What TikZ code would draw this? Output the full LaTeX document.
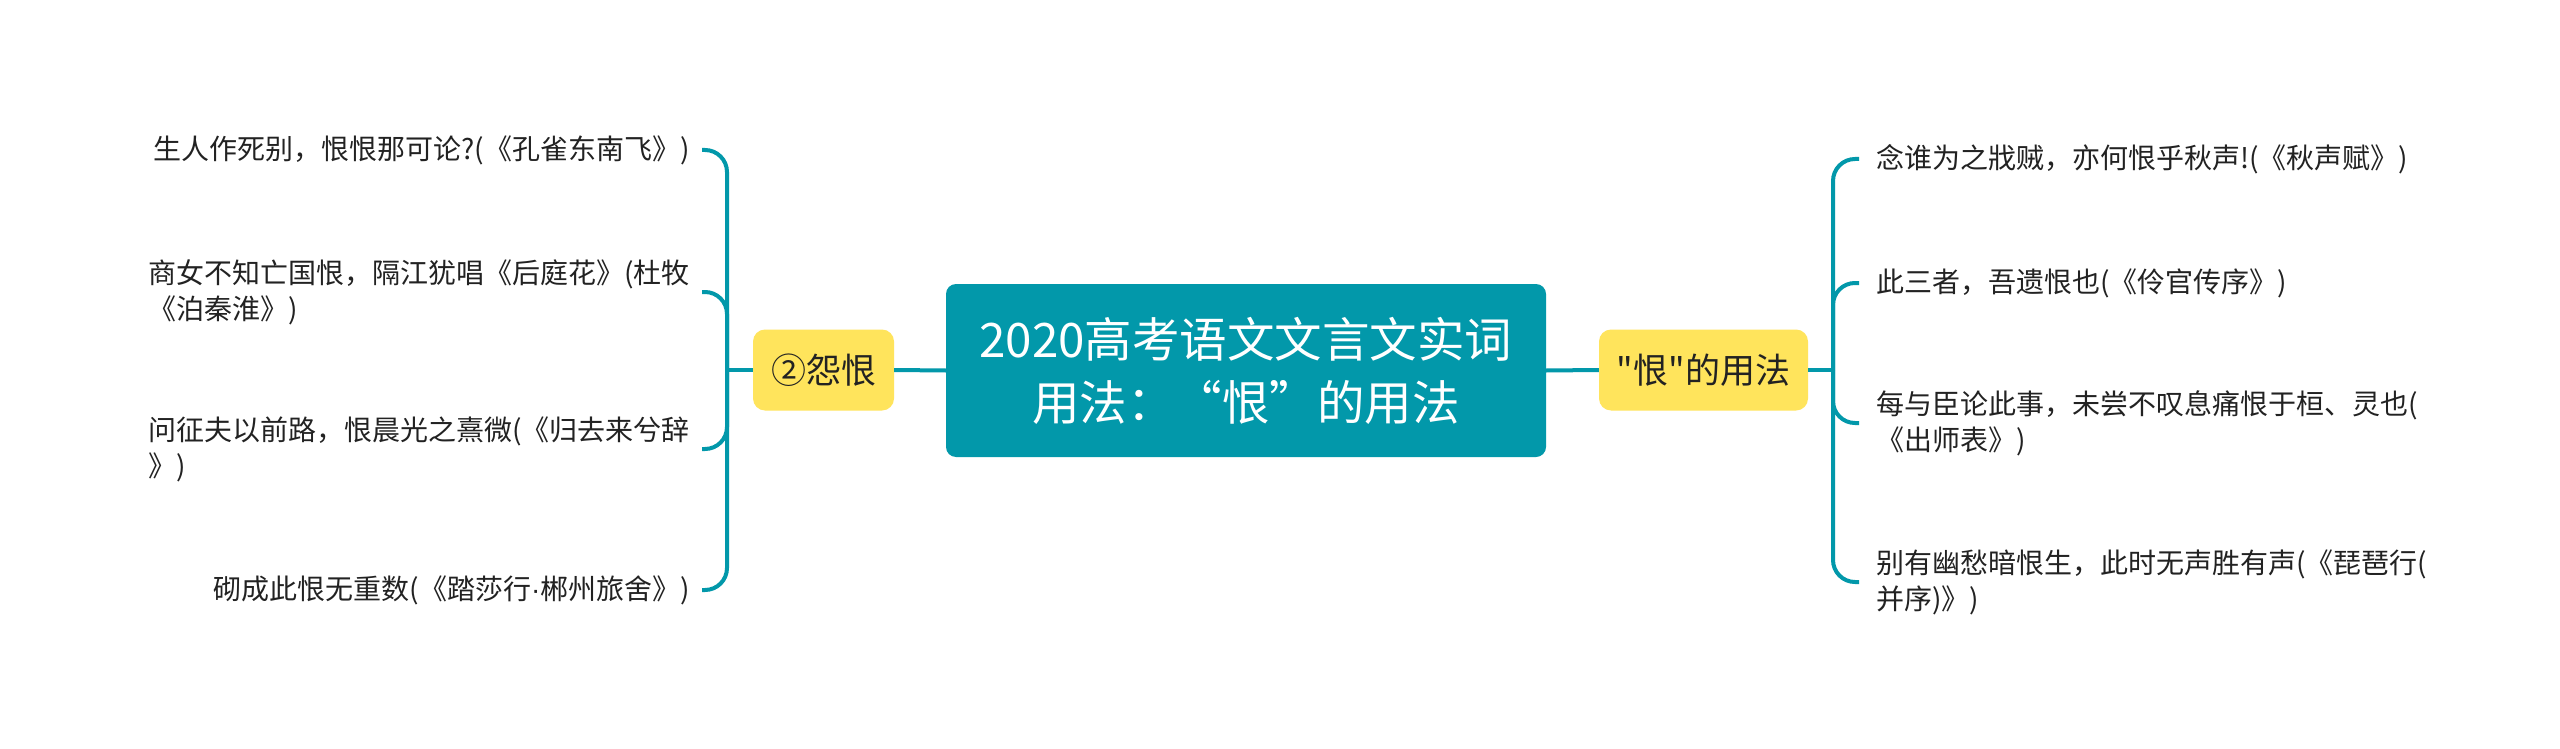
\documentclass[tikz,border=0pt]{standalone}
\usepackage{fontspec}
\setmainfont{Noto Sans CJK SC}
\newfontfamily\cjk{Noto Sans CJK SC}
\newfontfamily\latn{Liberation Sans}
\definecolor{mmteal}{RGB}{2,152,170}
\definecolor{mmyellow}{RGB}{255,228,92}
\definecolor{mmtext}{RGB}{34,34,34}
\tikzset{
  rootbox/.style={draw=none, fill=mmteal, rounded corners=10pt, minimum width=600pt, minimum height=173pt, inner sep=0pt, align=center, text=white, font=\cjk\fontsize{47.5}{63}\selectfont},
  midbox/.style={draw=none, fill=mmyellow, rounded corners=12pt, minimum height=81pt, inner sep=0pt, align=center, text=mmtext, font=\cjk\fontsize{35}{42}\selectfont},
  leaf/.style={inner sep=0pt, align=left, text=mmtext, font=\cjk\fontsize{28}{36}\selectfont},
  link/.style={draw=mmteal, line width=4pt},
  branch/.style={draw=mmteal, line width=4pt, rounded corners=22pt},
}
\begin{document}
\begin{tikzpicture}[x=1pt,y=-1pt]
\useasboundingbox (0,0) rectangle (2560,749);
\fill[white] (0,0) rectangle (2560,749);

\node[rootbox] (root) at (1246,370.5) {2020高考语文文言文实词\\用法：“恨”的用法};
\node[midbox, minimum width=141pt] (left) at (823.5,370) {②怨恨};
\node[midbox, minimum width=209pt] (right) at (1703.5,370) {"恨"的用法};

% left leaves
\node[leaf, anchor=east] (l1) at (690,150) {生人作死别，恨恨那可论?(《孔雀东南飞》)};
\node[leaf, anchor=east] (l2) at (690,292) {商女不知亡国恨，隔江犹唱《后庭花》(杜牧\\《泊秦淮》)};
\node[leaf, anchor=east] (l3) at (690,449) {问征夫以前路，恨晨光之熹微(《归去来兮辞\\》)};
\node[leaf, anchor=east] (l4) at (690,590) {砌成此恨无重数(《踏莎行{\latn ·}郴州旅舍》)};

% right leaves
\node[leaf, anchor=west] (r1) at (1876,159) {念谁为之戕贼，亦何恨乎秋声!(《秋声赋》)};
\node[leaf, anchor=west] (r2) at (1876,283) {此三者，吾遗恨也(《伶官传序》)};
\node[leaf, anchor=west] (r3) at (1876,423) {每与臣论此事，未尝不叹息痛恨于桓、灵也(\\《出师表》)};
\node[leaf, anchor=west] (r4) at (1876,582) {别有幽愁暗恨生，此时无声胜有声(《琵琶行(\\并序)》)};

\coordinate (lt) at (727,370);
\coordinate (rt) at (1833,370);

\draw[link] (root.west) -- (left.east);
\draw[link] (root.east) -- (right.west);
\draw[link] (left.west) -- (lt);
\draw[link] (right.east) -- (rt);

\foreach \n in {l1,l2,l3,l4}
  \draw[branch] (lt) |- ([xshift=12pt]\n.east);
\foreach \n in {r1,r2,r3,r4}
  \draw[branch] (rt) |- ([xshift=-17pt]\n.west);
\end{tikzpicture}
\end{document}
